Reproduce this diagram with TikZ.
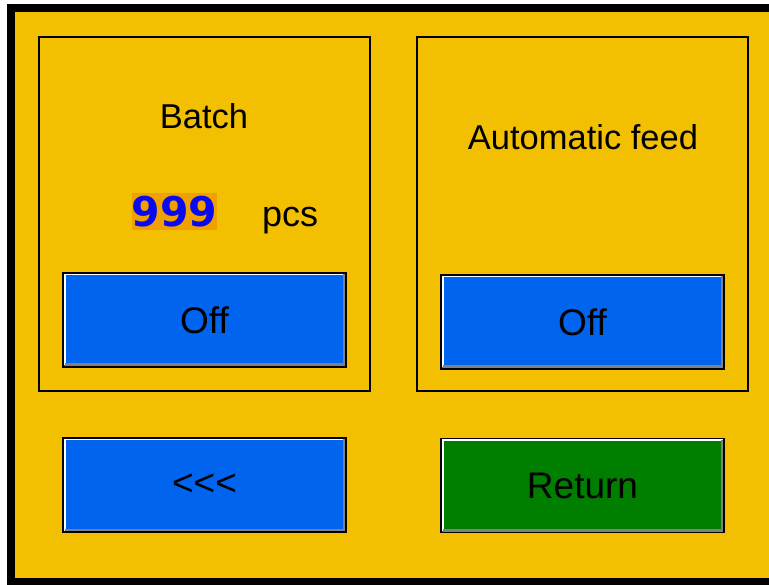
\documentclass[tikz,border=0pt]{standalone}
\usepackage{fontspec}
\setmainfont{Liberation Sans}
\newfontfamily\digitfont{DejaVu Sans}
\usetikzlibrary{positioning}

\definecolor{panelyellow}{RGB}{242,192,0}
\definecolor{btnblue}{RGB}{0,100,238}
\definecolor{btngreen}{RGB}{0,126,0}
\definecolor{numorange}{RGB}{240,160,0}
\definecolor{numblue}{RGB}{10,10,240}

\begin{document}
\begin{tikzpicture}[x=1pt, y=-1pt,
    panelbox/.style={rectangle, draw=black, line width=1.8pt, minimum width=331pt, minimum height=354pt},
    labeltext/.style={font=\fontsize{34.5}{38}\selectfont, inner sep=0pt},
    btnbox/.style={rectangle, draw=black, line width=1.6pt, fill=#1, minimum width=283pt, minimum height=94pt,
        font=\fontsize{37}{40}\selectfont, text=black,
        path picture={
            \draw[white, line width=2pt] ([xshift=1.5pt,yshift=1.5pt]path picture bounding box.south west) |- ([xshift=-1.5pt,yshift=-1.5pt]path picture bounding box.north east);
            \draw[gray, line width=3pt] ([xshift=1.5pt,yshift=2pt]path picture bounding box.south west) -| ([xshift=-2pt,yshift=-1.5pt]path picture bounding box.north east);
        }},
    numbox/.style={rectangle, fill=numorange, minimum width=85pt, minimum height=37pt, inner sep=0pt,
        font=\digitfont\bfseries\fontsize{41}{41}\selectfont, text=numblue},
    ]
    \useasboundingbox (0,0) rectangle (769,585);
    \fill[white] (0,0) rectangle (769,585);
    %Frame
    \fill[black] (7,4) rectangle (790,600);
    \fill[panelyellow] (15,12) rectangle (769,578);

    %Panels
    \node[panelbox]  (batchpanel) at (204.5,214) {};
    \node[panelbox]  (feedpanel)  at (582.5,214) {};

    %Texts
    \node[labeltext] (batch) at (204,116) {Batch};
    \node[labeltext] (feed)  at (583,137) {Automatic feed};
    \node[numbox]    (count) at (174.5,211.5) {999};
    \node[labeltext, font=\fontsize{36}{40}\selectfont, anchor=base west] (pcs) at (262,227) {pcs};

    %Buttons
    \node[btnbox=btnblue]  (batchoff) at (204.5,320) {Off};
    \node[btnbox=btnblue]  (feedoff)  at (582.5,322) {Off};
    \node[btnbox=btnblue]  (back)     at (204.5,485) {<{}<{}<};
    \node[btnbox=btngreen] (return)   at (582.5,485.5) {Return};

\end{tikzpicture}
\end{document}
